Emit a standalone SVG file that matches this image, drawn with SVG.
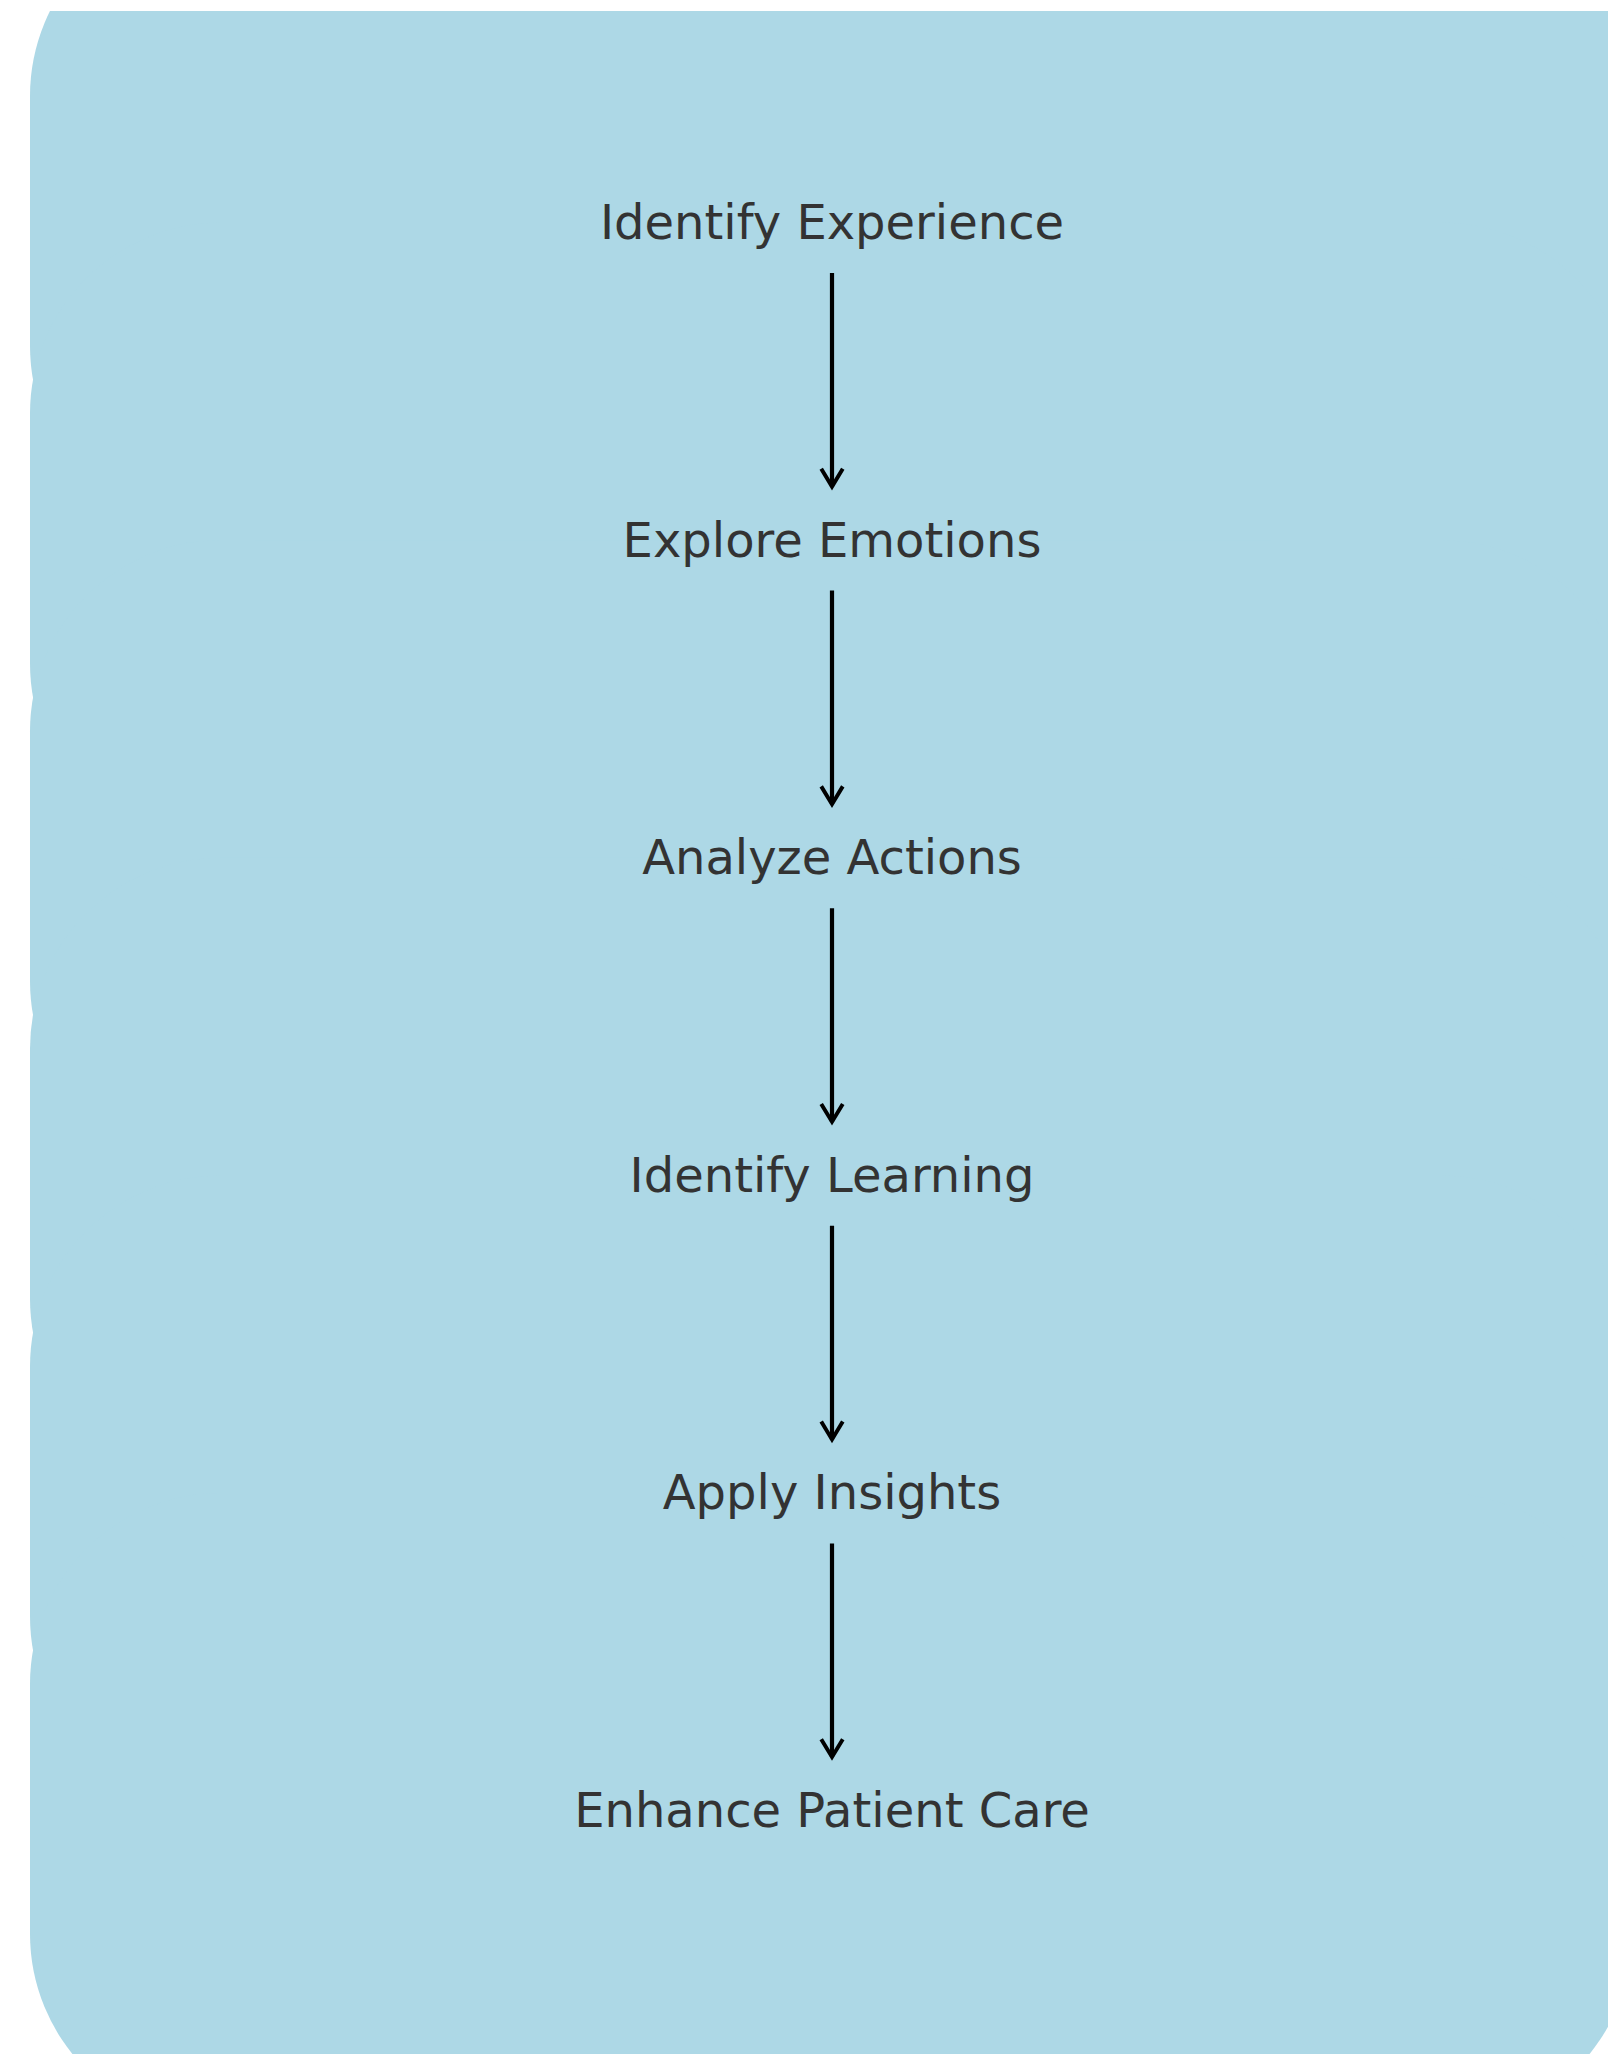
<svg xmlns="http://www.w3.org/2000/svg" width="1608" height="2054" viewBox="0 0 1608 2054">
  <style>
    .bg { fill: #ADD8E6; }
    .label { font-family: "DejaVu Sans", "Liberation Sans", sans-serif; font-size: 48px; fill: #333333; text-anchor: middle; }
    .edge { stroke: #000000; stroke-width: 4.2; fill: none; }
  </style>
  <defs>
    <clipPath id="frame">
      <rect x="0" y="11" width="1608" height="2043"/>
    </clipPath>
    <marker id="arrow" markerUnits="userSpaceOnUse" markerWidth="30" markerHeight="30" refX="0" refY="0" viewBox="-24 -16 28 32" orient="auto" overflow="visible">
      <path d="M-19,-11.5 L0,0 L-19,11.5" fill="none" stroke="#000000" stroke-width="4.2" stroke-linejoin="miter"/>
    </marker>
  </defs>
  <rect x="0" y="0" width="1608" height="2054" fill="#FFFFFF"/>
  <g id="node-shapes" clip-path="url(#frame)">
    <rect class="bg" x="30" y="-95" width="1602" height="632" rx="191" ry="191"/>
    <rect class="bg" x="30" y="222.6" width="1602" height="632" rx="191" ry="191"/>
    <rect class="bg" x="30" y="540.2" width="1602" height="632" rx="191" ry="191"/>
    <rect class="bg" x="30" y="857.8" width="1602" height="632" rx="191" ry="191"/>
    <rect class="bg" x="30" y="1175.4" width="1602" height="632" rx="191" ry="191"/>
    <rect class="bg" x="30" y="1493" width="1602" height="632" rx="191" ry="191"/>
  </g>
  <g id="connectors">
    <line class="edge" x1="832" y1="273" x2="832" y2="486.6" marker-end="url(#arrow)"/>
    <line class="edge" x1="832" y1="590.6" x2="832" y2="804.2" marker-end="url(#arrow)"/>
    <line class="edge" x1="832" y1="908.2" x2="832" y2="1121.8" marker-end="url(#arrow)"/>
    <line class="edge" x1="832" y1="1225.8" x2="832" y2="1439.4" marker-end="url(#arrow)"/>
    <line class="edge" x1="832" y1="1543.4" x2="832" y2="1757" marker-end="url(#arrow)"/>
  </g>
  <g id="node-1"><text class="label" x="832" y="239">Identify Experience</text></g>
  <g id="node-2"><text class="label" x="832" y="556.6">Explore Emotions</text></g>
  <g id="node-3"><text class="label" x="832" y="874.2">Analyze Actions</text></g>
  <g id="node-4"><text class="label" x="832" y="1191.8">Identify Learning</text></g>
  <g id="node-5"><text class="label" x="832" y="1509.4">Apply Insights</text></g>
  <g id="node-6"><text class="label" x="832" y="1827">Enhance Patient Care</text></g>
</svg>
